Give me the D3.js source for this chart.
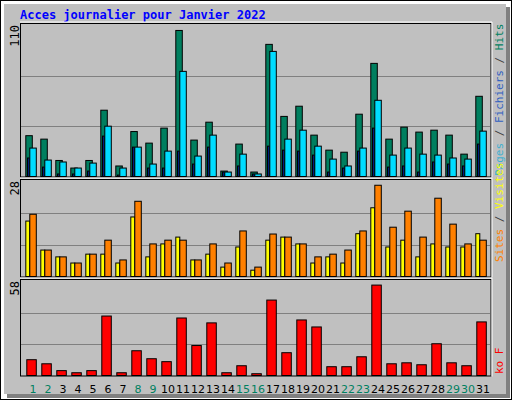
<!DOCTYPE html>
<html><head><meta charset="utf-8">
<script src="https://cdn.jsdelivr.net/npm/d3@7"></script>
<style>body{margin:0;background:#fff}</style>
</head><body><div id="chart"></div>
<script>
const days = d3.range(1, 32);
const weekend = [1, 2, 8, 9, 15, 16, 22, 23, 29, 30];
const hits = [30, 27.5, 12, 6.5, 12, 48.5, 8, 33, 24.6, 35.5, 106.4, 26.8, 39.8, 4.3, 23.9, 3.6, 96.3, 44, 51.4, 30.4, 19.5, 18, 45.6, 82.5, 27.5, 36.2, 32.6, 34, 30.4, 16.6, 58.6];
const files = [21, 12.3, 10.9, 6.5, 10.1, 36.9, 6.5, 21.7, 9.4, 18.8, 76.7, 15.2, 30.4, 3.6, 16.6, 2.2, 91.2, 27.5, 34, 22.4, 13, 8, 21, 55.7, 15.9, 21, 16.6, 15.9, 13.8, 13, 33.3];
const pages = [13.8, 7.2, 2.2, 2.2, 4.3, 29.7, 1.4, 21.7, 6.5, 6.5, 18.8, 9.4, 21.7, 3.6, 8, 2.2, 22.4, 19.5, 18.8, 15.9, 3.6, 6.5, 18.8, 35.5, 7.2, 8, 3.6, 10.9, 9.4, 8, 23.9];
const sites = [16.4, 7.9, 5.9, 4.1, 6.7, 6.7, 4.1, 17.6, 5.9, 9.7, 11.7, 5, 6.7, 2.9, 8.8, 2, 10.8, 11.7, 9.7, 4.1, 5.9, 4.1, 12.7, 20.3, 8.8, 10.8, 5.9, 9.7, 8.8, 8.8, 12.7];
const visits = [18.4, 7.9, 5.9, 4.1, 6.7, 10.8, 5, 22.2, 9.7, 10.8, 10.8, 5, 9.7, 4.1, 13.5, 2.9, 12.6, 11.7, 9.7, 5.9, 6.7, 7.9, 13.5, 26.9, 14.6, 19.3, 11.7, 23.1, 15.5, 9.7, 10.8];
const ko = [10, 7.5, 3.3, 2, 3.3, 36.8, 2, 15.5, 10.6, 8.8, 35.6, 18.7, 32.6, 2, 6.3, 1.4, 46.6, 14.3, 34.4, 30.1, 5.7, 5.7, 11.8, 55.8, 7.5, 8.1, 6.9, 19.8, 8.1, 6.3, 33.2];
const maxLabels = [110, 28, 58];

const svg = d3.select("#chart").append("svg").attr("width", 512).attr("height", 400)
  .style("font-family", "DejaVu Sans Mono, monospace");

// frame
svg.append("rect").attr("x", 0.5).attr("y", 0.5).attr("width", 511).attr("height", 399)
  .attr("fill", "#fff").attr("stroke", "#000");
svg.append("rect").attr("x", 7).attr("y", 7).attr("width", 503).attr("height", 391).attr("fill", "#808080");
svg.append("rect").attr("x", 4).attr("y", 4).attr("width", 502).attr("height", 390).attr("fill", "#c0c0c0");

svg.append("text").attr("x", 20).attr("y", 19).attr("fill", "#0000ff")
  .attr("font-weight", "bold").attr("font-size", 12).text("Acces journalier pour Janvier 2022");

const x = d3.scaleBand().domain(days).range([21, 21 + 15 * 31]).paddingInner(0).paddingOuter(0);
const panels = [
  { top: 25, bottom: 176.5, max: 110 },
  { top: 181, bottom: 276.5, max: 28 },
  { top: 281, bottom: 375.5, max: 58 }
];

panels.forEach((p, i) => {
  p.y = d3.scaleLinear().domain([0, p.max]).range([p.bottom, p.top]);
  svg.append("rect").attr("x", 20.5).attr("y", p.top - 1.5).attr("width", 470.5)
    .attr("height", p.bottom - p.top + 2).attr("fill", "#c0c0c0").attr("stroke", "#000");
  svg.append("path").attr("d", `M20,${p.top - 3}H492V${p.bottom + 1}`)
    .attr("fill", "none").attr("stroke", "#fff");
  [1, 2].forEach(k => {
    const gy = Math.round(p.bottom - (p.bottom - p.top) * k / 3) + 0.5;
    svg.append("line").attr("x1", 21).attr("x2", 490).attr("y1", gy).attr("y2", gy)
      .attr("stroke", "#808080");
  });
  svg.append("text").attr("transform", `translate(19,${p.top}) rotate(-90)`)
    .attr("text-anchor", "end").attr("font-size", 12).attr("fill", "#000").text(maxLabels[i]);
});

function bars(panel, data, dx, w, color) {
  svg.append("g").selectAll("rect").data(data).join("rect")
    .attr("x", (d, i) => x(days[i]) + dx + 0.5)
    .attr("y", d => panel.y(d) + 0.5)
    .attr("width", w - 1)
    .attr("height", d => Math.max(0, panel.bottom - panel.y(d) - 0.5))
    .attr("fill", color).attr("stroke", "#000");
}
bars(panels[0], hits, 4.3, 7.5, "#007f5f");
bars(panels[0], files, 8.3, 7.5, "#00dcff");
bars(panels[0], pages, 6, 2.5, "#0040ff");
bars(panels[1], sites, 4.3, 5, "#ffff00");
bars(panels[1], visits, 8.3, 7.5, "#ff8000");
bars(panels[2], ko, 5.3, 10.5, "#ff0000");

// day labels
svg.append("g").selectAll("text").data(days).join("text")
  .attr("x", d => x(d) + 12).attr("y", 393).attr("text-anchor", "middle")
  .attr("font-size", 11).attr("font-family", "DejaVu Sans, sans-serif")
  .attr("fill", d => weekend.includes(d) ? "#008060" : "#000").text(d => d);

// right rotated legends
function legend(yBottom, parts) {
  const t = svg.append("text").attr("transform", `translate(503,${yBottom}) rotate(-90)`)
    .attr("font-size", 11);
  parts.forEach(([s, c]) => t.append("tspan").attr("fill", c).text(s));
}
legend(176, [["Pages", "#40b0d0"], [" / ", "#404040"], ["Fichiers", "#3060c0"], [" / ", "#404040"], ["Hits", "#008060"]]);
legend(262, [["Sites", "#ff8000"], [" / ", "#404040"], ["Visites", "#ffff00"]]);
legend(374, [["ko F", "#ff0000"]]);
</script>
</body></html>
